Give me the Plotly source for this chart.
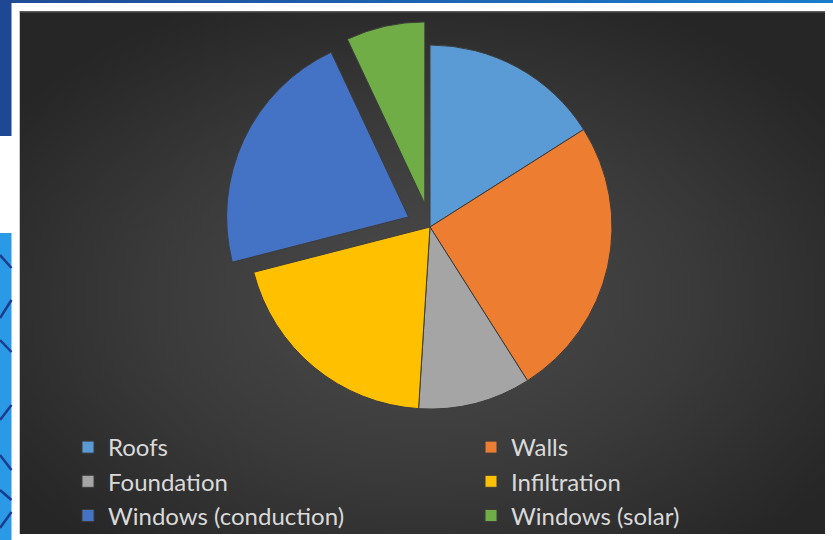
import base64
import plotly.graph_objects as go

# Heat-loss shares by building component (percent)
components = ["Roofs", "Walls", "Foundation", "Infiltration",
              "Windows (conduction)", "Windows (solar)"]
shares = [16, 25, 10, 20, 22, 7]
pulls = [0, 0, 0, 0, 0.13, 0.13]
colors = ["#5B9BD5", "#ED7D31", "#A5A5A5", "#FFC000", "#4472C4", "#70AD47"]

W, H = 833, 540


def px(x):
    return x / W


def py(y):
    return 1 - y / H


# radial-gradient backdrop for the dark chart panel
svg = (
    '<svg xmlns="http://www.w3.org/2000/svg" width="806" height="523" '
    'preserveAspectRatio="none" viewBox="0 0 806 523">'
    '<defs><radialGradient id="g" cx="0.5" cy="0.55" r="0.62">'
    '<stop offset="0" stop-color="#4b4b4b"/>'
    '<stop offset="0.55" stop-color="#3a3a3a"/>'
    '<stop offset="1" stop-color="#262626"/>'
    '</radialGradient></defs>'
    '<rect width="806" height="523" fill="url(#g)"/>'
    '<rect width="806" height="1.5" fill="#5a5a5a"/>'
    '</svg>'
)
bg_src = "data:image/svg+xml;base64," + base64.b64encode(svg.encode()).decode()

strip_svg = (
    '<svg xmlns="http://www.w3.org/2000/svg" width="833" height="3" '
    'preserveAspectRatio="none" viewBox="0 0 833 3">'
    '<defs><linearGradient id="t" x1="0" x2="1" y1="0" y2="0">'
    '<stop offset="0" stop-color="#1f4a96"/>'
    '<stop offset="1" stop-color="#1a7ccc"/>'
    '</linearGradient></defs>'
    '<rect width="833" height="3" fill="url(#t)"/></svg>'
)
strip_src = "data:image/svg+xml;base64," + base64.b64encode(strip_svg.encode()).decode()

# pie geometry: centre and radius in pixels
cx, cy, r = 430, 227, 182
half = r * (1 + max(pulls))

fig = go.Figure(go.Pie(
    labels=components,
    values=shares,
    pull=pulls,
    sort=False,
    direction="clockwise",
    rotation=0,
    textinfo="none",
    hoverinfo="label+percent",
    marker=dict(colors=colors, line=dict(color="#3c3c3c", width=1)),
    domain=dict(x=[px(cx - half), px(cx + half)],
                y=[py(cy + half), py(cy - half)]),
))

shapes = [
    # left slide edge: dark blue block, white gap, bright blue block
    dict(type="rect", xref="paper", yref="paper", x0=0, x1=px(11.5),
         y0=py(136), y1=1, fillcolor="#1e4794", line_width=0, layer="below"),
    dict(type="rect", xref="paper", yref="paper", x0=0, x1=px(11.5),
         y0=0, y1=py(233), fillcolor="#2a9ae6", line_width=0, layer="below"),
]
# dark diagonal strokes on the bright blue block
for y0, y1 in [(255, 268), (318, 300), (340, 352), (420, 405), (455, 470),
               (490, 500), (528, 512)]:
    shapes.append(dict(type="line", xref="paper", yref="paper",
                       x0=0, x1=px(11.5), y0=py(y0), y1=py(y1),
                       line=dict(color="#1a3c8c", width=2.5), layer="below"))

fig.update_layout(
    width=W, height=H,
    margin=dict(l=0, r=0, t=0, b=0, autoexpand=False),
    paper_bgcolor="white",
    plot_bgcolor="white",
    font=dict(family="Lato, sans-serif", color="#d9d9d9"),
    images=[
        dict(source=bg_src, xref="paper", yref="paper", x=px(19.5), y=py(11),
             sizex=px(825) - px(19.5), sizey=py(11) - py(534),
             xanchor="left", yanchor="top", sizing="stretch", layer="below"),
        dict(source=strip_src, xref="paper", yref="paper", x=0, y=1,
             sizex=1, sizey=3 / H, xanchor="left", yanchor="top",
             sizing="stretch", layer="below"),
    ],
    shapes=shapes,
    showlegend=True,
    legend=dict(
        orientation="h",
        x=px(68), y=py(425), xanchor="left", yanchor="top",
        entrywidth=358, entrywidthmode="pixels",
        font=dict(size=24, color="#d9d9d9", family="Lato, sans-serif"),
        bgcolor="rgba(0,0,0,0)",
        traceorder="normal",
    ),
)

fig.write_html("out.html")
